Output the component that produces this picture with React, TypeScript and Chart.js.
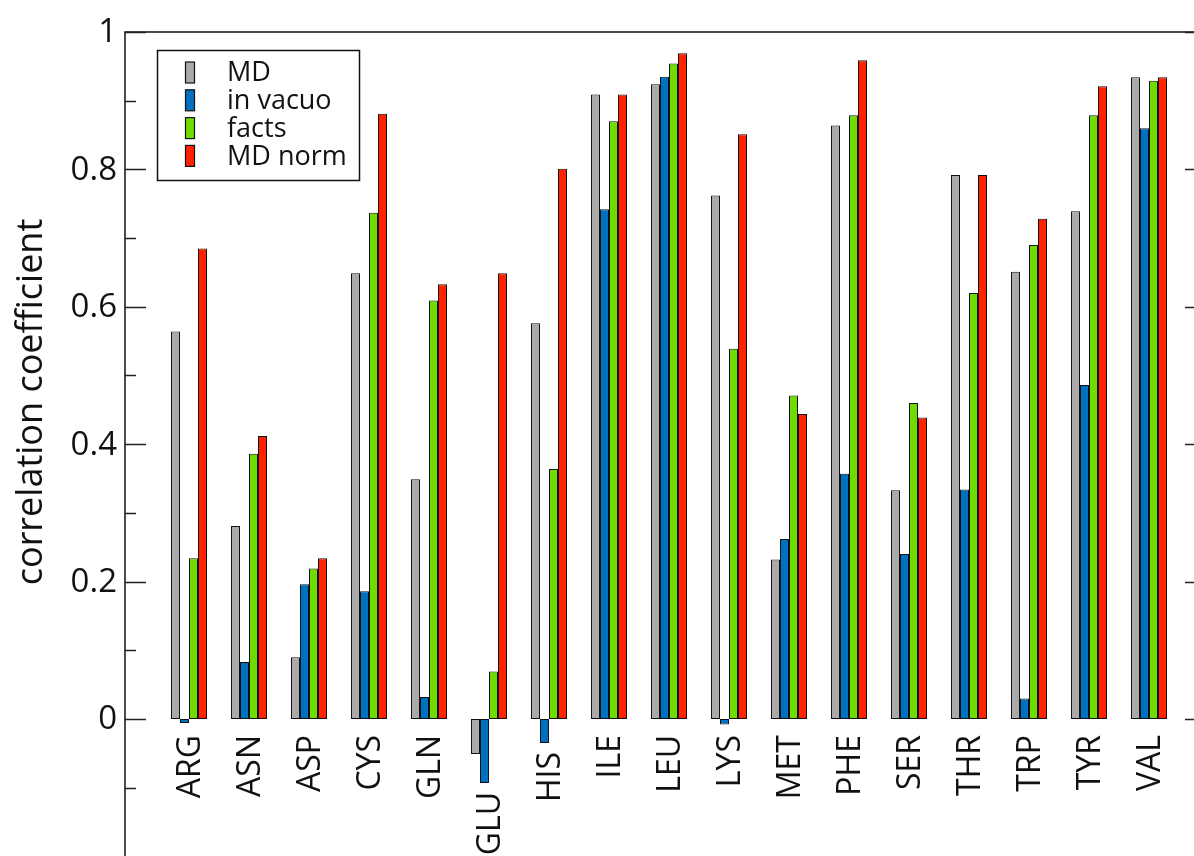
import React, { useEffect, useRef } from 'react';
import { Chart, registerables } from 'chart.js';

Chart.register(...registerables);

const categories = ['ARG', 'ASN', 'ASP', 'CYS', 'GLN', 'GLU', 'HIS', 'ILE', 'LEU', 'LYS', 'MET', 'PHE', 'SER', 'THR', 'TRP', 'TYR', 'VAL'];
const seriesLabels = ['MD', 'in vacuo', 'facts', 'MD norm'];
const mdValues = [0.564, 0.281, 0.090, 0.649, 0.349, -0.051, 0.576, 0.909, 0.924, 0.762, 0.232, 0.864, 0.333, 0.792, 0.651, 0.739, 0.934];
const inVacuoValues = [-0.006, 0.083, 0.196, 0.186, 0.032, -0.093, -0.035, 0.742, 0.935, -0.008, 0.262, 0.357, 0.240, 0.334, 0.030, 0.486, 0.860];
const factsValues = [0.234, 0.386, 0.219, 0.737, 0.609, 0.069, 0.364, 0.870, 0.954, 0.539, 0.471, 0.879, 0.460, 0.620, 0.690, 0.879, 0.929];
const mdNormValues = [0.685, 0.412, 0.234, 0.881, 0.633, 0.649, 0.801, 0.909, 0.969, 0.851, 0.444, 0.959, 0.439, 0.792, 0.728, 0.921, 0.934];
const seriesColors = ['#aaaaaa', '#0070c0', '#6fdc00', '#ff2200'];

const yTickValues = [0, 0.2, 0.4, 0.6, 0.8, 1];
const yTickLabels = ['0', '0.2', '0.4', '0.6', '0.8', '1'];
const majorTickValues = [0, 0.2, 0.4, 0.6, 0.8, 1];
const minorTickValues = [-0.1, 0.1, 0.3, 0.5, 0.7, 0.9];
const yTitle = 'correlation coefficient';

const FONT = '"Open Sans", "Noto Sans", sans-serif';

const decorPlugin = {
  id: 'decor',
  afterDraw(chart: any) {
    const { ctx, chartArea: a, scales } = chart;
    const x = scales.x;
    const y = scales.y;
    ctx.save();
    ctx.strokeStyle = '#111';
    ctx.lineWidth = 1.5;
    ctx.beginPath();
    ctx.moveTo(a.left, a.bottom);
    ctx.lineTo(a.left, a.top);
    ctx.lineTo(a.right, a.top);
    ctx.lineTo(a.right, a.bottom);
    ctx.stroke();

    ctx.strokeStyle = '#222';
    ctx.lineWidth = 1.5;
    const drawTick = (v: number, len: number) => {
      const py = Math.round(y.getPixelForValue(v)) + 0.5;
      ctx.beginPath();
      ctx.moveTo(a.left, py);
      ctx.lineTo(a.left + len, py);
      ctx.moveTo(a.right, py);
      ctx.lineTo(a.right - len, py);
      ctx.stroke();
    };
    majorTickValues.forEach((v) => drawTick(v, 21));
    minorTickValues.forEach((v) => drawTick(v, 11));

    // y tick labels
    ctx.fillStyle = '#111';
    ctx.font = `33px ${FONT}`;
    ctx.textAlign = 'right';
    ctx.textBaseline = 'middle';
    yTickValues.forEach((v, i) => {
      ctx.fillText(yTickLabels[i], 117, y.getPixelForValue(v) + 1);
    });

    // y title
    ctx.save();
    ctx.translate(42, 402);
    ctx.rotate(-Math.PI / 2);
    ctx.font = `36px ${FONT}`;
    ctx.textAlign = 'center';
    ctx.textBaseline = 'alphabetic';
    ctx.fillText(yTitle, 0, 0);
    ctx.restore();

    // x category labels, placed below the lowest bar of each group
    const y0 = y.getPixelForValue(0);
    ctx.font = `32px ${FONT}`;
    categories.forEach((cat, i) => {
      const vals = chart.data.datasets.map((d: any) => d.data[i].y);
      const minV = Math.min(0, ...vals);
      const top = Math.max(y0 + 16, y.getPixelForValue(minV) + 9);
      const px = x.getPixelForValue(i) + 2;
      ctx.save();
      ctx.translate(px, top);
      ctx.rotate(-Math.PI / 2);
      ctx.textAlign = 'right';
      ctx.textBaseline = 'middle';
      ctx.fillText(cat, 0, 0);
      ctx.restore();
    });

    // legend
    ctx.lineWidth = 1.5;
    ctx.strokeStyle = '#111';
    ctx.strokeRect(157.5, 50.5, 202, 130);
    ctx.font = `27px ${FONT}`;
    ctx.textAlign = 'left';
    ctx.textBaseline = 'middle';
    chart.data.datasets.forEach((d: any, i: number) => {
      const cy = 72.5 + i * 27.8;
      ctx.fillStyle = d.backgroundColor;
      ctx.fillRect(185.5, cy - 10.5, 9, 21);
      ctx.lineWidth = 1.2;
      ctx.strokeStyle = '#111';
      ctx.strokeRect(185.5, cy - 10.5, 9, 21);
      ctx.fillStyle = '#111';
      ctx.fillText(d.label, 227, cy + 1);
    });
    ctx.restore();
  },
};

export default function App() {
  const canvasRef = useRef<HTMLCanvasElement | null>(null);

  useEffect(() => {
    document.body.style.margin = '0';
    document.body.style.overflow = 'hidden';
    const canvas = canvasRef.current;
    if (!canvas) return;
    const seriesValues = [mdValues, inVacuoValues, factsValues, mdNormValues];
    const chart = new Chart(canvas, {
      type: 'bar',
      data: {
        datasets: seriesValues.map((vals, s) => ({
          label: seriesLabels[s],
          data: vals.map((v, i) => ({ x: i, y: v })),
          backgroundColor: seriesColors[s],
          borderColor: '#111111',
          borderWidth: 1,
          borderSkipped: false,
          barPercentage: 1,
          categoryPercentage: 0.6,
        })),
      },
      options: {
        responsive: false,
        maintainAspectRatio: false,
        animation: false,
        devicePixelRatio: 1,
        layout: { padding: { left: 125, top: 32, right: 34, bottom: 43.6 } },
        plugins: { legend: { display: false }, tooltip: { enabled: false } },
        scales: {
          x: {
            type: 'linear',
            offset: false,
            min: -64 / 60,
            max: 16.95,
            display: false,
            grid: { offset: false },
            afterBuildTicks: (scale: any) => {
              scale.ticks = categories.map((_, i) => ({ value: i }));
            },
          },
          y: {
            type: 'linear',
            min: -0.2,
            max: 1,
            display: false,
          },
        },
      },
      plugins: [decorPlugin],
    } as any);
    return () => chart.destroy();
  }, []);

  return (
    <div style={{ position: 'fixed', left: 0, top: 0, width: 1194, height: 856, overflow: 'hidden', background: '#fff' }}>
      <canvas ref={canvasRef} width={1240} height={900} style={{ display: 'block' }} />
    </div>
  );
}
